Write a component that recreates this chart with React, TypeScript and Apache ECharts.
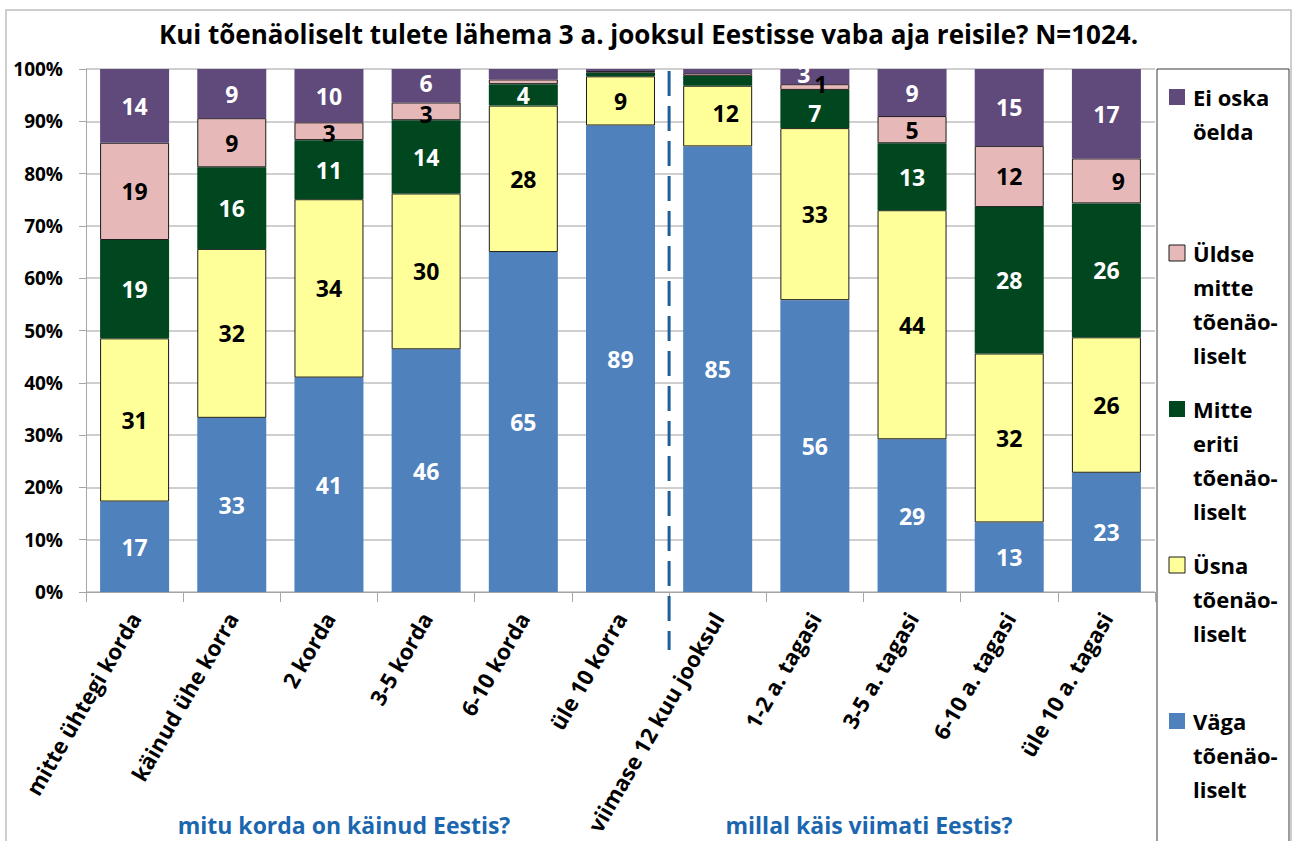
import React, { useEffect, useRef } from "react";
import * as echarts from "echarts";

const titleText = "Kui tõenäoliselt tulete lähema 3 a. jooksul Eestisse vaba aja reisile? N=1024.";

const categories = [
  "mitte ühtegi korda",
  "käinud ühe korra",
  "2 korda",
  "3-5 korda",
  "6-10 korda",
  "üle 10 korra",
  "viimase 12 kuu jooksul",
  "1-2 a. tagasi",
  "3-5 a. tagasi",
  "6-10 a. tagasi",
  "üle 10 a. tagasi",
];

const seriesNames = [
  "Väga tõenäoliselt",
  "Üsna tõenäoliselt",
  "Mitte eriti tõenäoliselt",
  "Üldse mitte tõenäoliselt",
  "Ei oska öelda",
];

const vagaToenaoliselt = [17.3, 33.3, 41.0, 46.4, 65.0, 89.2, 85.2, 55.8, 29.2, 13.3, 22.8];
const usnaToenaoliselt = [31.2, 32.3, 34.1, 29.8, 28.0, 9.4, 11.6, 32.9, 43.8, 32.3, 25.9];
const mitteEritiToenaoliselt = [18.8, 15.6, 11.3, 14.0, 4.1, 0.7, 1.9, 7.3, 12.8, 28.0, 25.6];
const uldseMitteToenaoliselt = [18.6, 9.4, 3.4, 3.4, 0.9, 0.3, 0.5, 1.1, 5.2, 11.7, 8.6];
const eiOskaOelda = [14.1, 9.4, 10.2, 6.4, 2.0, 0.4, 0.8, 2.9, 9.0, 14.7, 17.1];

const seriesValues = [
  vagaToenaoliselt,
  usnaToenaoliselt,
  mitteEritiToenaoliselt,
  uldseMitteToenaoliselt,
  eiOskaOelda,
];

// legend text, wrapped as in the original
const legendLines = [
  ["Väga", "tõenäo-", "liselt"],
  ["Üsna", "tõenäo-", "liselt"],
  ["Mitte", "eriti", "tõenäo-", "liselt"],
  ["Üldse", "mitte", "tõenäo-", "liselt"],
  ["Ei oska", "öelda"],
];

// [seriesIndex, categoryIndex] of segments whose value label is not shown
const hiddenLabels = [
  [3, 4], [4, 4],
  [2, 5], [3, 5], [4, 5],
  [2, 6], [3, 6], [4, 6],
];

// [seriesIndex, categoryIndex, dx, dy] manual label nudges as in the original
const labelNudges = [
  [1, 6, 8, -3],
  [3, 10, 12, 0],
  [4, 7, -11, -3],
  [3, 7, 6, -3],
  [2, 7, 0, 4],
  [4, 3, 0, -3],
  [3, 3, 0, 3],
  [3, 2, 0, 2],
];

const groupTitles = ["mitu korda on käinud Eestis?", "millal käis viimati Eestis?"];

const colors = ["#4F81BD", "#FFFF99", "#00461F", "#E6B9B8", "#604A7B"];
const borderColors = ["transparent", "#1a1a1a", "transparent", "#1a1a1a", "transparent"];
const labelColors = ["#ffffff", "#000000", "#ffffff", "#000000", "#ffffff"];

const FONT = "'Open Sans'";

export default function App() {
  const ref = useRef<HTMLDivElement>(null);

  useEffect(() => {
    if (!ref.current) return;
    const chart = echarts.init(ref.current, null, { renderer: "svg" });

    const isHidden = (si: number, ci: number) =>
      hiddenLabels.some(([s, c]) => s === si && c === ci);
    const nudge = (si: number, ci: number) =>
      labelNudges.find(([s, c]) => s === si && c === ci);

    const series = seriesNames.map((name, si) => ({
      name,
      type: "bar",
      stack: "total",
      barCategoryGap: "29%",
      data: seriesValues[si].map((v, ci) => {
        if (isHidden(si, ci)) return { value: v, label: { show: false } };
        const n = nudge(si, ci);
        if (n) return { value: v, label: { offset: [n[2], n[3]] } };
        return v;
      }),
      itemStyle: {
        color: colors[si],
        borderColor: borderColors[si],
        borderWidth: borderColors[si] === "transparent" ? 0 : 1,
      },
      label: {
        show: true,
        position: "inside",
        formatter: (p: any) => String(Math.round(p.value)),
        color: labelColors[si],
        fontFamily: FONT,
        fontWeight: "bold",
        fontSize: 23,
      },
    }));

    const legendTop = 97;
    const legendStep = 156;
    const lineH = 34;
    const legendGraphics: any[] = [];
    const order = [4, 3, 2, 1, 0];
    order.forEach((si, i) => {
      const cy = legendTop + i * legendStep;
      legendGraphics.push({
        type: "rect",
        shape: { x: 1169, y: cy - 8, width: 16, height: 16 },
        style: {
          fill: colors[si],
          stroke: borderColors[si] === "transparent" ? null : "#1a1a1a",
          lineWidth: 1,
        },
        z: 10,
      });
      legendGraphics.push({
        type: "text",
        x: 1193,
        y: cy - lineH / 2,
        style: {
          text: legendLines[si].join("\n"),
          font: `bold 22px ${FONT}`,
          fill: "#000",
          lineHeight: lineH,
          verticalAlign: "top",
          textAlign: "left",
        },
        z: 10,
      });
    });

    const option: any = {
      animation: false,
      backgroundColor: "#fff",
      title: {
        text: titleText,
        left: "center",
        top: 16,
        textStyle: { fontFamily: FONT, fontWeight: "bold", fontSize: 26, color: "#000" },
      },
      grid: { left: 86, right: 142, top: 69, bottom: 249, containLabel: false },
      xAxis: {
        type: "category",
        data: categories,
        axisLine: { lineStyle: { color: "#A6A6A6", width: 1 } },
        axisTick: { show: true, length: 10, interval: 0, lineStyle: { color: "#A6A6A6" } },
        axisLabel: {
          interval: 0,
          rotate: 60,
          margin: 22,
          fontFamily: FONT,
          fontWeight: "bold",
          fontSize: 22,
          color: "#000",
        },
      },
      yAxis: {
        type: "value",
        min: 0,
        max: 100,
        interval: 10,
        axisLine: { show: true, lineStyle: { color: "#A6A6A6", width: 1 } },
        axisTick: { show: true, length: 7, lineStyle: { color: "#A6A6A6" } },
        splitLine: { lineStyle: { color: "#BFBFBF", width: 1.5 } },
        axisLabel: {
          formatter: "{value}%",
          margin: 23,
          fontFamily: FONT,
          fontWeight: "bold",
          fontSize: 19,
          color: "#000",
        },
      },
      series,
      graphic: {
        elements: [
          {
            id: "frame",
            type: "rect",
            shape: { x: 6, y: 10, width: 1285, height: 845 },
            style: { fill: "none", stroke: "#BFBFBF", lineWidth: 1.5 },
            silent: true,
            z: -10,
          },
          {
            id: "legendBox",
            type: "rect",
            shape: { x: 1157, y: 69, width: 132, height: 790 },
            style: { fill: "#fff", stroke: "#3a3a3a", lineWidth: 1 },
            silent: true,
            z: 5,
          },
          ...legendGraphics,
          {
            type: "text",
            x: 344,
            y: 825,
            style: {
              text: groupTitles[0],
              font: `bold 23px ${FONT}`,
              fill: "#1B67AF",
              textAlign: "center",
              verticalAlign: "middle",
            },
          },
          {
            type: "text",
            x: 869,
            y: 825,
            style: {
              text: groupTitles[1],
              font: `bold 23px ${FONT}`,
              fill: "#1B67AF",
              textAlign: "center",
              verticalAlign: "middle",
            },
          },
        ],
      },
    };

    chart.setOption(option);

    const x5 = chart.convertToPixel({ xAxisIndex: 0 }, categories[5]) as number;
    const x6 = chart.convertToPixel({ xAxisIndex: 0 }, categories[6]) as number;
    const yTop = chart.convertToPixel({ yAxisIndex: 0 }, 100) as number;
    const xDiv = (x5 + x6) / 2;
    chart.setOption({
      graphic: {
        elements: [
          {
            id: "divider",
            type: "line",
            shape: { x1: xDiv, y1: yTop + 2, x2: xDiv, y2: 650 },
            style: { stroke: "#1F5E9C", lineWidth: 3, lineDash: [25, 10] },
            z: 20,
          },
        ],
      },
    });

    return () => chart.dispose();
  }, []);

  return (
    <div
      ref={ref}
      style={{ position: "fixed", left: 0, top: 0, width: 1297, height: 841 }}
    />
  );
}
